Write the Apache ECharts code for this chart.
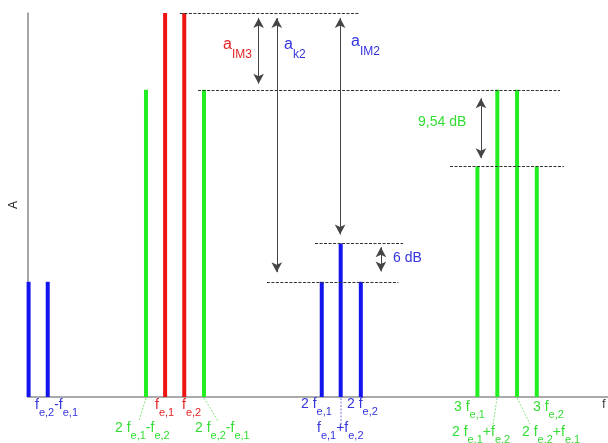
<!DOCTYPE html>
<html><head><meta charset="utf-8">
<script src="https://cdn.jsdelivr.net/npm/echarts@6/dist/echarts.min.js"></script>
<style>html,body{margin:0;padding:0;background:#fff}#c{width:608px;height:443px}</style>
</head><body><div id="c"></div>
<script>
// spectral lines: frequency position (schematic units) and amplitude (relative)
const blueFreq = [0.03, 1.0, 14.89, 15.85, 16.87];
const blueAmp  = [30, 30, 30, 40, 30];
const redFreq  = [6.95, 7.92];
const redAmp   = [100, 100];
const greenFreq = [5.98, 8.92, 22.78, 23.79, 24.79, 25.79];
const greenAmp  = [80, 80, 60, 80, 80, 60];
// dashed reference levels
const levelY    = [100, 80, 60, 40, 30];
const levelFrom = [7.70, 8.62, 21.39, 14.55, 12.11];
const levelTo   = [16.78, 26.97, 27.17, 19.01, 18.78];
// double arrows (tip positions)
const arrowX      = [11.69, 12.61, 15.82, 17.89, 22.96];
const arrowTop    = [100, 100, 100, 40.3, 79.1];
const arrowBottom = [80.3, 31.2, 41.0, 31.4, 60.9];

const BLUE = '#1414ee', RED = '#ee1414', GREEN = '#22ee22';
const TBLUE = '#3434dc', TRED = '#e42424', TGREEN = '#33dd33';

const chart = echarts.init(document.getElementById('c'), null, {renderer: 'canvas'});
const yPerPx = 100 / 384;
const inset = 5 * yPerPx;

const pairs = (xs, ys) => xs.map((x, i) => [x, ys[i]]);

const dashedLines = levelY.map((y, i) => [
  {coord: [levelFrom[i], y]}, {coord: [levelTo[i], y]}
]);
const arrowLines = arrowX.map((x, i) => [
  {coord: [x, arrowTop[i] - inset]}, {coord: [x, arrowBottom[i] + inset]}
]);

const FONT = '"Liberation Sans", Arial, sans-serif';
function rich(color, m, s, pad) {
  return {
    m: {fontSize: m, fontFamily: FONT, color: color, verticalAlign: 'top'},
    s: {fontSize: s, fontFamily: FONT, color: color, verticalAlign: 'top', padding: [pad, 0, 0, 0]}
  };
}
function txt(parts) {
  return parts.map((p, i) => '{' + (i % 2 === 0 ? 'm' : 's') + '|' + p + '}').join('');
}
function label(left, top, parts, color, m, s, pad) {
  return {type: 'text', left: left, top: top, z: 10,
    style: {text: txt(parts), rich: rich(color, m || 14, s || 11, pad || 9), fill: color}};
}

const texts = [
  label(35, 398, ['f', 'e,2', '-f', 'e,1'], TBLUE),
  label(155, 398, ['f', 'e,1'], TRED),
  label(182, 398, ['f', 'e,2'], TRED),
  label(301, 397, ['2 f', 'e,1'], TBLUE),
  label(347, 397, ['2 f', 'e,2'], TBLUE),
  label(454, 400, ['3 f', 'e,1'], TGREEN),
  label(533, 400, ['3 f', 'e,2'], TGREEN),
  label(115, 421, ['2 f', 'e,1', '-f', 'e,2'], TGREEN),
  label(195, 421, ['2 f', 'e,2', '-f', 'e,1'], TGREEN),
  label(317, 421, ['f', 'e,1', '+f', 'e,2'], TBLUE),
  label(452, 425, ['2 f', 'e,1', '+f', 'e,2'], TGREEN),
  label(522, 425, ['2 f', 'e,2', '+f', 'e,1'], TGREEN),
  label(223, 37, ['a', 'IM3'], TRED, 16, 12, 12),
  label(284, 37, ['a', 'k2'], TBLUE, 16, 12, 12),
  label(351, 34, ['a', 'IM2'], TBLUE, 16, 12, 12),
  {type: 'text', left: 418, top: 115, style: {text: '9,54 dB', fill: TGREEN, font: '14px ' + FONT}},
  {type: 'text', left: 393, top: 251, style: {text: '6 dB', fill: TBLUE, font: '14px ' + FONT}},
  {type: 'text', left: 602, top: 398, style: {text: 'f', fill: '#444', font: '13px ' + FONT}}
];

function leader(x1, y1, x2, y2, color) {
  return {type: 'line', z: 5, shape: {x1: x1, y1: y1, x2: x2, y2: y2},
    style: {stroke: color, lineWidth: 0.8, lineDash: [2, 1.5]}};
}
const leaders = [
  leader(146, 398, 139, 421, '#66dd66'),
  leader(204, 398, 218, 421, '#66dd66'),
  leader(341, 398, 341, 428, '#5555dd'),
  leader(497, 398, 493, 425, '#66dd66'),
  leader(517, 398, 530, 424, '#66dd66')
];

const barBase = {type: 'bar', barWidth: 4, barGap: '-100%', silent: true, animation: false};

chart.setOption({
  animation: false,
  grid: {left: 28, right: 0, top: 13, bottom: 46, outerBoundsMode: 'none', containLabel: false},
  xAxis: {type: 'value', min: 0, max: 29.4,
    axisLine: {show: true, onZero: false, lineStyle: {color: '#aaa', width: 2}},
    axisTick: {show: false}, axisLabel: {show: false}, splitLine: {show: false}},
  yAxis: {type: 'value', min: 0, max: 100, name: 'A', nameLocation: 'middle', nameGap: 8, nameRotate: 90,
    nameTextStyle: {color: '#222', fontSize: 12, fontFamily: FONT},
    axisLine: {show: true, lineStyle: {color: '#888', width: 1.5}},
    axisTick: {show: false}, axisLabel: {show: false}, splitLine: {show: false}},
  series: [
    Object.assign({}, barBase, {name: 'blue', data: pairs(blueFreq, blueAmp), itemStyle: {color: BLUE}}),
    Object.assign({}, barBase, {name: 'red', data: pairs(redFreq, redAmp), itemStyle: {color: RED}}),
    Object.assign({}, barBase, {name: 'green', data: pairs(greenFreq, greenAmp), itemStyle: {color: GREEN},
      markLine: {silent: true, symbol: ['none', 'none'], animation: false,
        lineStyle: {color: '#333', width: 1, type: [3, 1.5]}, label: {show: false},
        data: dashedLines}}),
    {type: 'line', name: 'arrows', data: [], silent: true,
      markLine: {silent: true, symbol: ['arrow', 'arrow'], symbolSize: [8, 10], animation: false,
        lineStyle: {color: '#444', width: 1, type: 'solid'}, label: {show: false},
        data: arrowLines}}
  ],
  graphic: leaders.concat(texts)
});
</script></body></html>
